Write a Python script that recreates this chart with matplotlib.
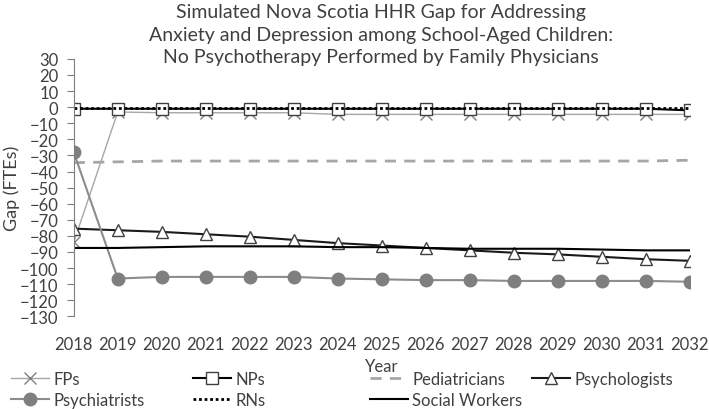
import matplotlib
matplotlib.use("Agg")
import matplotlib.pyplot as plt

plt.rcParams["font.family"] = ["Lato", "DejaVu Sans"]

years = list(range(2018, 2033))

fps = [-84, -3, -3.5, -3.5, -3.5, -3.5, -4.5, -4.5, -4.5, -4.5, -4.5, -4.5, -4.5, -4.5, -4.5]
nps = [-1, -1, -1, -1, -1, -1, -1, -1, -1, -1, -1, -1, -1, -1, -2]
pediatricians = [-34.5, -34, -33.5, -33.5, -33.5, -33.5, -33.5, -33.5, -33.5, -33.5, -33.5, -33.5, -33.5, -33.5, -33]
psychologists = [-75.5, -76.5, -77.5, -79, -80.5, -82.5, -84.5, -86, -87.5, -89, -90.5, -91.5, -93, -94.5, -95.5]
psychiatrists = [-28, -106.5, -105.5, -105.5, -105.5, -105.5, -106.5, -107, -107.5, -107.5, -108, -108, -108, -108, -108.5]
rns = [-0.5] * 15
social_workers = [-87.5, -87.5, -87, -86.5, -86.5, -86.5, -87, -87, -87.5, -88, -88, -88, -88.5, -89, -89]

txt = "#404040"

fig = plt.figure(figsize=(7.09, 4.10), dpi=100)
ax = fig.add_axes([0.104, 0.226, 0.869, 0.628])

h_fp, = ax.plot(years, fps, color="#a6a6a6", lw=1.0, marker="x", ms=9, mew=1.0,
                mec="#808080", label="FPs")
h_np, = ax.plot(years, nps, color="black", lw=1.5, marker="s", ms=8, mfc="white",
                mec="#404040", mew=1.0, label="NPs")
h_ped, = ax.plot(years, pediatricians, color="#a6a6a6", lw=2.0, ls=(0, (4, 3)),
                 label="Pediatricians")
h_psyl, = ax.plot(years, psychologists, color="#1a1a1a", lw=1.5, marker="^", ms=9,
                  mfc="white", mec="#404040", mew=1.0, label="Psychologists")
h_psyc, = ax.plot(years, psychiatrists, color="#8c8c8c", lw=1.5, marker="o", ms=9,
                  mfc="#7f7f7f", mec="#7f7f7f", label="Psychiatrists")
h_rn, = ax.plot(years, rns, color="black", lw=2.0, ls=(0, (1, 1)), label="RNs")
h_sw, = ax.plot(years, social_workers, color="black", lw=1.5, label="Social Workers")

ax.set_xlim(2018, 2032)
ax.set_ylim(-130, 30)
ax.set_yticks(range(-130, 31, 10))
ax.set_xticks(years)
ax.set_xticklabels([str(y) for y in years])
ax.tick_params(axis="both", colors=txt, labelsize=12, length=0)
ax.tick_params(axis="y", length=5, direction="out", color="#7f7f7f", pad=6)
ax.tick_params(axis="x", pad=14)
for s in ["top", "right", "bottom"]:
    ax.spines[s].set_visible(False)
ax.spines["left"].set_color("#7f7f7f")

ax.set_ylabel("Gap (FTEs)", color=txt, fontsize=13, labelpad=0)
ax.set_xlabel("Year", color=txt, fontsize=12, labelpad=0)
ax.xaxis.set_label_coords(0.5, -0.16)

fig.text(0.537, 0.99, "Simulated Nova Scotia HHR Gap for Addressing\n"
         "Anxiety and Depression among School-Aged Children:\n"
         "No Psychotherapy Performed by Family Physicians",
         ha="center", va="top", fontsize=14, color=txt, linespacing=1.4)

# Excel-style legend: four columns placed at their own x positions
columns = [([h_fp, h_psyc], 11), ([h_np, h_rn], 193), ([h_ped, h_sw], 370), ([h_psyl], 532)]
for hs, x0 in columns:
    leg = fig.legend(hs, [h.get_label() for h in hs], loc="upper left",
                     bbox_to_anchor=(x0 / 709, 1 - 372 / 410), frameon=False,
                     fontsize=12, handlelength=2.3, handletextpad=0.25,
                     labelspacing=0.3, borderpad=0, borderaxespad=0)
    for t in leg.get_texts():
        t.set_color(txt)

fig.savefig("out.png", dpi=100)
